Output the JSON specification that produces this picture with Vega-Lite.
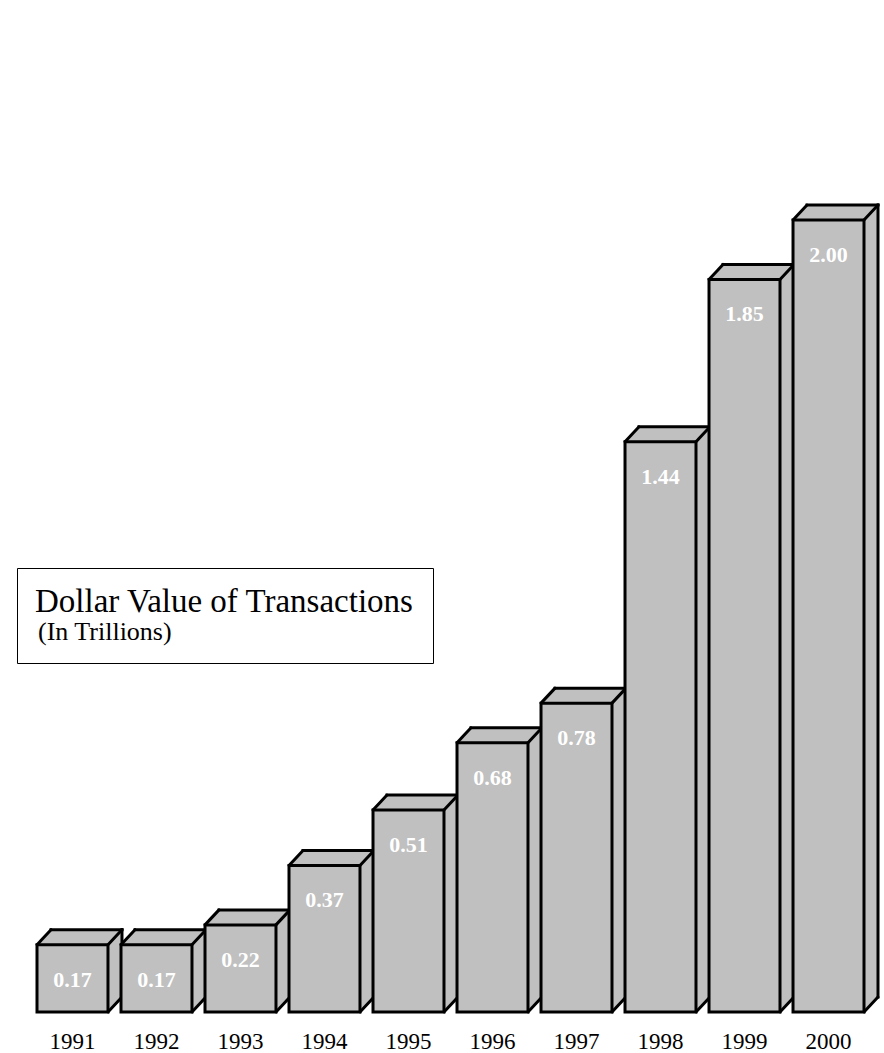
{
  "$schema": "https://vega.github.io/schema/vega-lite/v6.json",
  "autosize": {"type": "none"},
  "padding": {"left": 0, "top": 0, "right": 0, "bottom": 41},
  "width": 884,
  "height": 1012,
  "background": "white",
  "config": {"view": {"stroke": null}, "font": "Liberation Serif"},
  "data": {"values": [
    {"year": "1991", "value": 0.17},
    {"year": "1992", "value": 0.17},
    {"year": "1993", "value": 0.22},
    {"year": "1994", "value": 0.37},
    {"year": "1995", "value": 0.51},
    {"year": "1996", "value": 0.68},
    {"year": "1997", "value": 0.78},
    {"year": "1998", "value": 1.44},
    {"year": "1999", "value": 1.85},
    {"year": "2000", "value": 2.00}
  ]},
  "encoding": {
    "x": {"field": "year", "type": "nominal", "sort": null,
      "scale": {"type": "band", "range": [37, 864], "paddingInner": 0.155, "paddingOuter": 0},
      "axis": {"title": null, "ticks": false, "domain": false, "labelAngle": 0, "labelPadding": 18,
        "labelFont": "Liberation Serif", "labelFontSize": 23, "labelColor": "black", "labelBaseline": "top"}},
    "y": {"field": "value", "type": "quantitative",
      "scale": {"domain": [0, 2.5556], "nice": false, "zero": true},
      "axis": null}
  },
  "layer": [
    {"mark": {"type": "bar", "fill": "#c0c0c0", "strokeWidth": 0, "xOffset": 14, "x2Offset": 14, "yOffset": -15, "y2Offset": -15}, "encoding": {"y2": {"datum": 0}}},
    {"mark": {"type": "bar", "fill": "#c0c0c0", "strokeWidth": 0, "xOffset": 12, "x2Offset": 12, "yOffset": -12.9, "y2Offset": -12.9}, "encoding": {"y2": {"datum": 0}}},
    {"mark": {"type": "bar", "fill": "#c0c0c0", "strokeWidth": 0, "xOffset": 10, "x2Offset": 10, "yOffset": -10.7, "y2Offset": -10.7}, "encoding": {"y2": {"datum": 0}}},
    {"mark": {"type": "bar", "fill": "#c0c0c0", "strokeWidth": 0, "xOffset": 8, "x2Offset": 8, "yOffset": -8.6, "y2Offset": -8.6}, "encoding": {"y2": {"datum": 0}}},
    {"mark": {"type": "bar", "fill": "#c0c0c0", "strokeWidth": 0, "xOffset": 6, "x2Offset": 6, "yOffset": -6.4, "y2Offset": -6.4}, "encoding": {"y2": {"datum": 0}}},
    {"mark": {"type": "bar", "fill": "#c0c0c0", "strokeWidth": 0, "xOffset": 4, "x2Offset": 4, "yOffset": -4.3, "y2Offset": -4.3}, "encoding": {"y2": {"datum": 0}}},
    {"mark": {"type": "bar", "fill": "#c0c0c0", "strokeWidth": 0, "xOffset": 2, "x2Offset": 2, "yOffset": -2.1, "y2Offset": -2.1}, "encoding": {"y2": {"datum": 0}}},
    {"mark": {"type": "rule", "color": "black", "strokeWidth": 3, "strokeCap": "square", "xOffset": 14, "x2Offset": 14, "yOffset": -15},
      "encoding": {"x": {"field": "year", "type": "nominal", "sort": null, "bandPosition": 0}, "x2": {"field": "year", "bandPosition": 1}}},
    {"mark": {"type": "rule", "color": "black", "strokeWidth": 3, "strokeCap": "square", "xOffset": 14, "yOffset": -15, "y2Offset": -15},
      "encoding": {"x": {"field": "year", "type": "nominal", "sort": null, "bandPosition": 1}, "y2": {"datum": 0}}},
    {"mark": {"type": "rule", "color": "black", "strokeWidth": 3, "strokeCap": "round", "x2Offset": 14, "y2Offset": -15},
      "encoding": {"x": {"field": "year", "type": "nominal", "sort": null, "bandPosition": 0}, "x2": {"field": "year", "bandPosition": 0}, "y2": {"field": "value"}}},
    {"mark": {"type": "rule", "color": "black", "strokeWidth": 3, "strokeCap": "round", "x2Offset": 14, "y2Offset": -15},
      "encoding": {"x": {"field": "year", "type": "nominal", "sort": null, "bandPosition": 1}, "x2": {"field": "year", "bandPosition": 1}, "y2": {"field": "value"}}},
    {"mark": {"type": "rule", "color": "black", "strokeWidth": 3, "strokeCap": "round", "x2Offset": 14, "y2Offset": -15},
      "encoding": {"x": {"field": "year", "type": "nominal", "sort": null, "bandPosition": 1}, "x2": {"field": "year", "bandPosition": 1}, "y": {"datum": 0}, "y2": {"datum": 0}}},
    {"mark": {"type": "bar", "stroke": "black", "strokeWidth": 3, "strokeJoin": "miter"},
      "encoding": {"color": {"datum": "(In Trillions)", "type": "nominal",
        "scale": {"range": ["#c0c0c0"]},
        "legend": {"orient": "none", "legendX": 17, "legendY": 568, "title": "Dollar Value of Transactions",
          "titleFont": "Liberation Serif", "titleFontSize": 33, "titleFontWeight": "normal", "titleColor": "black",
          "titleLimit": 600, "labelLimit": 600,
          "titlePadding": 0, "labelFont": "Liberation Serif", "labelFontSize": 26, "labelColor": "black",
          "symbolSize": 0, "symbolStrokeWidth": 0, "symbolOpacity": 0, "labelOffset": -23,
          "padding": 18, "strokeColor": "black", "fillColor": "white"}}}},
    {"mark": {"type": "text", "color": "white", "font": "Liberation Serif", "fontWeight": "bold", "fontSize": 22, "baseline": "middle", "dy": 35},
      "encoding": {"text": {"field": "value", "type": "quantitative", "format": ".2f"}}}
  ]
}
